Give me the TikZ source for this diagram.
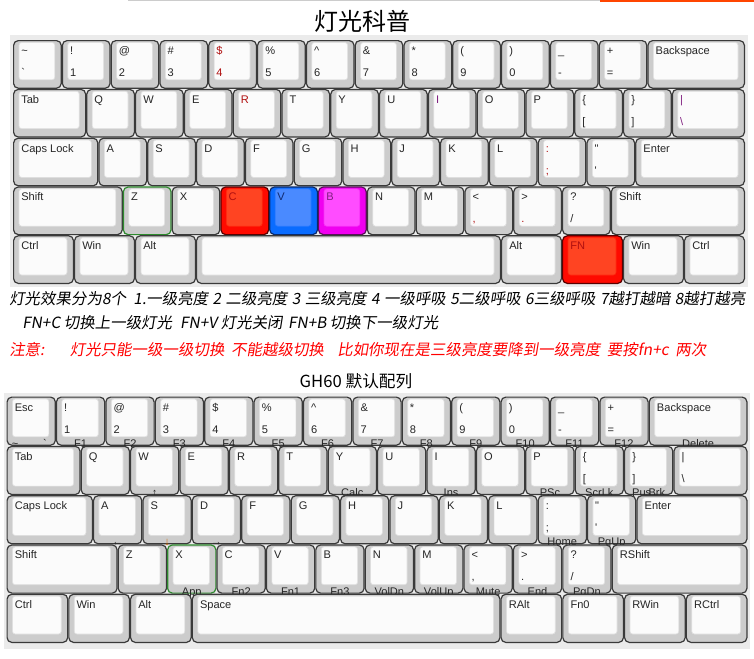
\documentclass[tikz,border=0pt]{standalone}
\usepackage{fontspec}
\usepackage{xcolor}
\usetikzlibrary{positioning}

\newfontfamily\keyfont{Liberation Sans}
\newfontfamily\cjkfont{Noto Sans CJK SC}
\newfontfamily\cjkslant[FakeSlant=0.16]{Noto Sans CJK SC}

\definecolor{plainedge}{HTML}{3A3A3A}
\definecolor{plainbody}{HTML}{CCCCCC}
\definecolor{plainface}{HTML}{FBFBFB}
\definecolor{plainrim}{HTML}{E0E0E0}
\definecolor{rededge}{HTML}{5A0000}
\definecolor{redbody}{HTML}{FF0A00}
\definecolor{redface}{HTML}{FF4422}
\definecolor{redrim}{HTML}{FF2A10}
\definecolor{blueedge}{HTML}{0A2A6A}
\definecolor{bluebody}{HTML}{0A6CFF}
\definecolor{blueface}{HTML}{4A8AFF}
\definecolor{bluerim}{HTML}{2A7AFF}
\definecolor{pinkedge}{HTML}{5A105A}
\definecolor{pinkbody}{HTML}{F000F0}
\definecolor{pinkface}{HTML}{FF4CFF}
\definecolor{pinkrim}{HTML}{F830F8}
\definecolor{greenedge}{HTML}{2E8B2E}
\definecolor{greenbody}{HTML}{CCCCCC}
\definecolor{greenface}{HTML}{FBFBFB}
\definecolor{greenrim}{HTML}{E0E0E0}
\definecolor{labgray}{HTML}{262626}
\definecolor{labred}{HTML}{B01010}
\definecolor{labpurple}{HTML}{802080}
\definecolor{labnavy}{HTML}{102A70}
\definecolor{panelgray}{HTML}{EBEBEB}
\definecolor{ruleorange}{HTML}{FF4500}

% one row of keycaps: prefix, x0, y, unit, height, keys (width/top/bottom/scheme/fn)
\newcommand\kbrow[6]{%
  \xdef\kbx{#2}%
  \foreach \kw/\kt/\kb/\ks/\kf [count=\kn] in {#6}{%
    \pgfmathsetmacro\kbL{\kbx}%
    \pgfmathsetmacro\kbR{\kbx+\kw*#4}%
    \draw[keybody=\ks] (\kbL+0.6,#3+0.6) rectangle (\kbR-0.6,#3+#5-0.6);
    \draw[keyface=\ks] (\kbL+6,#3+2.5) rectangle (\kbR-7,#3+#5-9);
    \node[toplab] (#1-\kn-t) at (\kbL+8,#3+14.5) {\kt};
    \node[botlab] (#1-\kn-b) at (\kbL+8,#3+36.5) {\kb};
    \node[sublab] (#1-\kn-f) at ({(\kbL+\kbR)/2},#3+#5+1.5) {\kf};
    \xdef\kbx{\kbR}%
  }}
\newcommand\gap[1]{\hspace{#1pt}}

\begin{document}
\begin{tikzpicture}[
    x=0.75pt, y=-0.75pt,
    keybody/.style={draw=#1edge, fill=#1body, line width=0.9pt, rounded corners=3.5pt},
    keyface/.style={draw=#1rim, fill=#1face, line width=0.5pt, rounded corners=2pt},
    toplab/.style={anchor=base west, inner sep=0pt, text=labgray, font=\keyfont\fontsize{8.3}{9}\selectfont},
    botlab/.style={toplab},
    sublab/.style={anchor=base, inner sep=0pt, text=labgray, font=\keyfont\fontsize{8.3}{9}\selectfont},
    panel/.style={fill=panelgray, draw=none},
    linetext/.style={anchor=west, inner sep=0pt, text=black, font=\cjkslant\fontsize{11.6}{13}\selectfont}
]
\useasboundingbox (0,0) rectangle (754,658);
\fill[white] (0,0) rectangle (754,658);

\draw[black!20, line width=0.8pt] (128,0.6) -- (600,0.6);
\draw[ruleorange, line width=1.5pt] (600,0.8) -- (754,0.8);

\node[inner sep=0pt, font=\cjkfont\fontsize{18}{20}\selectfont] (title) at (362,21) {灯光科普};

\fill[panel] (10,35) rectangle (748,287);

\kbrow{ua}{13}{40}{48.8}{48.8}{1/\textasciitilde/\textasciigrave/plain/{},1/!/1/plain/{},1/@/2/plain/{},1/\#/3/plain/{},1/{\color{labred}\$}/{\color{labred}4}/plain/{},1/\%/5/plain/{},1/\textasciicircum/6/plain/{},1/\&/7/plain/{},1/*/8/plain/{},1/(/9/plain/{},1/)/0/plain/{},1/\_/-/plain/{},1/+/=/plain/{},2/Backspace/{}/plain/{}}
\kbrow{ub}{13}{88.8}{48.8}{48.8}{1.5/Tab/{}/plain/{},1/Q/{}/plain/{},1/W/{}/plain/{},1/E/{}/plain/{},1/{\color{labred}R}/{}/plain/{},1/T/{}/plain/{},1/Y/{}/plain/{},1/U/{}/plain/{},1/{\color{labpurple}I}/{}/plain/{},1/O/{}/plain/{},1/P/{}/plain/{},1/\{/{[}/plain/{},1/\}/{]}/plain/{},1.5/{\color{labpurple}|}/{\color{labpurple}\textbackslash}/plain/{}}
\kbrow{uc}{13}{137.6}{48.8}{48.8}{1.75/Caps Lock/{}/plain/{},1/A/{}/plain/{},1/S/{}/plain/{},1/D/{}/plain/{},1/F/{}/plain/{},1/G/{}/plain/{},1/H/{}/plain/{},1/J/{}/plain/{},1/K/{}/plain/{},1/L/{}/plain/{},1/{\color{labred}:}/{\color{labred};}/plain/{},1/"/'/plain/{},2.25/Enter/{}/plain/{}}
\kbrow{ud}{13}{186.4}{48.8}{48.8}{2.25/Shift/{}/plain/{},1/Z/{}/green/{},1/X/{}/plain/{},1/{\color{labred}C}/{}/red/{},1/{\color{labnavy}V}/{}/blue/{},1/{\color{labpurple}B}/{}/pink/{},1/N/{}/plain/{},1/M/{}/plain/{},1/{<}/{\color{labred},}/plain/{},1/{>}/{\color{labred}.}/plain/{},1/?/{/}/plain/{},2.75/Shift/{}/plain/{}}
\kbrow{ue}{13}{235.2}{48.8}{48.8}{1.25/Ctrl/{}/plain/{},1.25/Win/{}/plain/{},1.25/Alt/{}/plain/{},6.25/{}/{}/plain/{},1.25/Alt/{}/plain/{},1.25/{\color{labred}FN}/{}/red/{},1.25/Win/{}/plain/{},1.25/Ctrl/{}/plain/{}}

\node[linetext] (modes) at (9,299) {灯光效果分为8个\gap{5.5}1.一级亮度\gap{3.3}2\gap{3.3}二级亮度\gap{3.3}3\gap{3.3}三级亮度\gap{3.3}4\gap{3.3}一级呼吸\gap{3.3}5二级呼吸\gap{3.3}6三级呼吸\gap{3.3}7越打越暗\gap{3.3}8越打越亮};
\node[linetext] (fnkeys) at (22,323) {FN+C 切换上一级灯光\gap{6}FN+V 灯光关闭\gap{4}FN+B 切换下一级灯光};
\node[linetext, text=red] (notice) at (9,350) {注意:\gap{19}灯光只能一级一级切换\gap{5}不能越级切换\gap{10}比如你现在是三级亮度要降到一级亮度\gap{5}要按fn+c\gap{5}两次};
\node[inner sep=0pt, font=\cjkfont\fontsize{12.5}{14}\selectfont] (gh60) at (356,381) {GH60 默认配列};

\fill[panel] (4,393) rectangle (750,649);

\kbrow{la}{6.5}{396.5}{49.4}{49.3}{1/Esc/{}/plain/{},1/!/1/plain/F1,1/@/2/plain/F2,1/\#/3/plain/F3,1/\$/4/plain/F4,1/\%/5/plain/F5,1/\textasciicircum/6/plain/F6,1/\&/7/plain/F7,1/*/8/plain/F8,1/(/9/plain/F9,1/)/0/plain/F10,1/\_/-/plain/F11,1/+/=/plain/F12,2/Backspace/{}/plain/Delete}
\node[sublab] (esc-tilde) at (15,447.3) {\textasciitilde};
\node[sublab] (esc-grave) at (45,447.3) {\textasciigrave};
\kbrow{lb}{6.5}{445.8}{49.4}{49.3}{1.5/Tab/{}/plain/{},1/Q/{}/plain/{},1/W/{}/plain/{↑},1/E/{}/plain/{},1/R/{}/plain/{},1/T/{}/plain/{},1/Y/{}/plain/Calc,1/U/{}/plain/{},1/I/{}/plain/Ins,1/O/{}/plain/{},1/P/{}/plain/PSc,1/\{/{[}/plain/ScrLk,1/\}/{]}/plain/{Pus\kern-2pt Brk},1.5/|/\textbackslash/plain/{}}
\kbrow{lc}{6.5}{495.1}{49.4}{49.3}{1.75/Caps Lock/{}/plain/{},1/A/{}/plain/{←},1/S/{}/plain/{\color{orange!80!black}↓},1/D/{}/plain/{→},1/F/{}/plain/{},1/G/{}/plain/{},1/H/{}/plain/{},1/J/{}/plain/{},1/K/{}/plain/{},1/L/{}/plain/{},1/:/;/plain/Home,1/"/'/plain/PgUp,2.25/Enter/{}/plain/{}}
\kbrow{ld}{6.5}{544.4}{49.4}{49.3}{2.25/Shift/{}/plain/{},1/Z/{}/plain/{},1/X/{}/green/App,1/C/{}/plain/Fn2,1/V/{}/plain/Fn1,1/B/{}/plain/Fn3,1/N/{}/plain/VolDn,1/M/{}/plain/VolUp,1/{<}/{,}/plain/Mute,1/{>}/{.}/plain/End,1/?/{/}/plain/PgDn,2.75/RShift/{}/plain/{}}
\kbrow{le}{6.5}{593.7}{49.4}{49.3}{1.25/Ctrl/{}/plain/{},1.25/Win/{}/plain/{},1.25/Alt/{}/plain/{},6.25/Space/{}/plain/{},1.25/RAlt/{}/plain/{},1.25/Fn0/{}/plain/{},1.25/RWin/{}/plain/{},1.25/RCtrl/{}/plain/{}}

\end{tikzpicture}
\end{document}
